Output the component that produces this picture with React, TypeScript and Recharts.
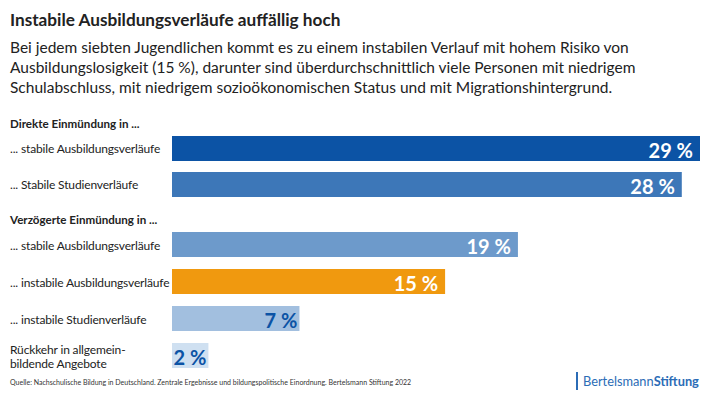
import React from 'react';
import { BarChart, Bar, XAxis, YAxis, Cell, LabelList } from 'recharts';

const title = 'Instabile Ausbildungsverläufe auffällig hoch';
const subtitleLines = [
  'Bei jedem siebten Jugendlichen kommt es zu einem instabilen Verlauf mit hohem Risiko von',
  'Ausbildungslosigkeit (15 %), darunter sind überdurchschnittlich viele Personen mit niedrigem',
  'Schulabschluss, mit niedrigem sozioökonomischen Status und mit Migrationshintergrund.',
];
const groupTitles = ['Direkte Einmündung in ...', 'Verzögerte Einmündung in ...'];

const directCategories = ['... stabile Ausbildungsverläufe', '... Stabile Studienverläufe'];
const directValues = [29, 28];

const delayedCategories = [
  '... stabile Ausbildungsverläufe',
  '... instabile Ausbildungsverläufe',
  '... instabile Studienverläufe',
  'Rückkehr in allgemein-\nbildende Angebote',
];
const delayedValues = [19, 15, 7, 2];

const source =
  'Quelle: Nachschulische Bildung in Deutschland. Zentrale Ergebnisse und bildungspolitische Einordnung. Bertelsmann Stiftung 2022';

// styling
const directColors = ['#0c53a5', '#3d77b8'];
const delayedColors = ['#6d9acb', '#f0990f', '#a2bfdf', '#cfe0f1'];
const directLabelColors = ['#fff', '#fff'];
const delayedLabelColors = ['#fff', '#fff', '#0c53a5', '#0c53a5'];

const FONT = 'Lato, "Open Sans", sans-serif';
const maxValue = Math.max(...directValues, ...delayedValues);

const CategoryTick = (props: any) => {
  const { y, payload } = props;
  const lines = String(payload.value).split('\n');
  const lh = 14;
  const y0 = y - ((lines.length - 1) * lh) / 2;
  return (
    <text
      x={10}
      y={y0}
      fill="#222"
      fontSize={12}
      letterSpacing={-0.15}
      fontFamily={FONT}
      dominantBaseline="central"
    >
      {lines.map((l, i) => (
        <tspan key={i} x={10} y={y0 + i * lh}>
          {l}
        </tspan>
      ))}
    </text>
  );
};

const makeLabel = (colors: string[]) => (props: any) => {
  const { x, y, width, height, value, index } = props;
  const c = colors[index];
  const inset = c === '#fff' ? 7 : 2;
  return (
    <text
      x={x + width - inset}
      y={y + height / 2 + 1}
      textAnchor="end"
      dominantBaseline="central"
      fill={c}
      fontSize={20}
      fontWeight={700}
      fontFamily={FONT}
    >
      {value} %
    </text>
  );
};

const Group = ({ cats, vals, colors, labelColors, height }: any) => {
  const data = cats.map((name: string, i: number) => ({ name, value: vals[i] }));
  return (
    <BarChart
      layout="vertical"
      data={data}
      width={710}
      height={height}
      margin={{ top: 0, right: 10, bottom: 0, left: 10 }}
    >
      <XAxis type="number" hide domain={[0, maxValue]} />
      <YAxis
        type="category"
        dataKey="name"
        width={162}
        axisLine={false}
        tickLine={false}
        tick={<CategoryTick />}
      />
      <Bar dataKey="value" barSize={25} isAnimationActive={false}>
        {data.map((_: any, i: number) => (
          <Cell key={i} fill={colors[i]} />
        ))}
        <LabelList dataKey="value" content={makeLabel(labelColors)} />
      </Bar>
    </BarChart>
  );
};

const abs = (top: number, left: number): React.CSSProperties => ({
  position: 'absolute',
  top,
  left,
  whiteSpace: 'nowrap',
});

export default function App() {
  return (
    <div
      style={{
        position: 'absolute',
        left: 0,
        top: 0,
        width: 710,
        height: 399,
        background: '#fff',
        fontFamily: FONT,
        color: '#222',
        overflow: 'hidden',
      }}
    >
      <div style={{ ...abs(10, 10), fontSize: 17.2, fontWeight: 700, lineHeight: '20px' }}>{title}</div>
      <div style={{ ...abs(37, 10), fontSize: 15.5, lineHeight: '20px' }}>
        {subtitleLines.map((l, i) => (
          <div key={i}>{l}</div>
        ))}
      </div>
      <div style={{ ...abs(116, 10), fontSize: 11.6, fontWeight: 700, lineHeight: '16px' }}>{groupTitles[0]}</div>
      <div style={{ ...abs(212, 10), fontSize: 11.6, fontWeight: 700, lineHeight: '16px' }}>{groupTitles[1]}</div>

      <div style={{ position: 'absolute', top: 130, left: 0 }}>
        <Group cats={directCategories} vals={directValues} colors={directColors} labelColors={directLabelColors} height={72} />
      </div>
      <div style={{ position: 'absolute', top: 226, left: 0 }}>
        <Group cats={delayedCategories} vals={delayedValues} colors={delayedColors} labelColors={delayedLabelColors} height={148} />
      </div>

      <div style={{ ...abs(377, 10), fontSize: 7, lineHeight: '10px', color: '#333' }}>{source}</div>
      <div style={{ position: 'absolute', left: 576, top: 372, width: 1.5, height: 18, background: '#2b6cb6' }} />
      <div style={{ ...abs(373, 583), fontSize: 12.8, lineHeight: '16px', color: '#2b6cb6' }}>
        Bertelsmann<span style={{ fontWeight: 700 }}>Stiftung</span>
      </div>
    </div>
  );
}
